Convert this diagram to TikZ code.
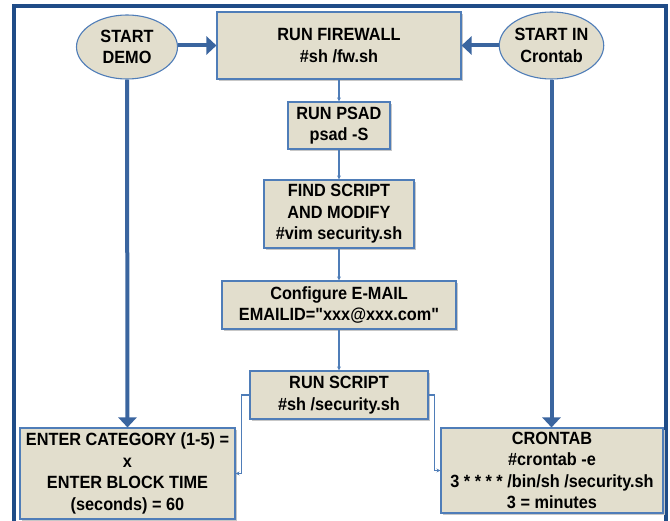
\documentclass[tikz,border=0pt]{standalone}
\usepackage{fontspec}
\newfontfamily\diagfont{Liberation Sans}[FakeStretch=0.92]
\usetikzlibrary{arrows.meta,shapes.geometric}
\definecolor{boxfill}{HTML}{E2DECD}
\definecolor{boxline}{HTML}{4F7DB8}
\definecolor{thickblue}{HTML}{3A659F}
\definecolor{framecol}{HTML}{1F4C87}
\tikzset{
  lbl/.style={font=\diagfont\bfseries\fontsize{17.7}{21.5}\selectfont, align=center, text=black},
  rectbox/.style={lbl, draw=boxline, fill=boxfill, line width=1.1pt, inner sep=0pt, rectangle},
  ellbox/.style={lbl, draw=boxline, fill=boxfill, line width=1.1pt, inner sep=0pt, ellipse},
  bigarrow/.style={draw=thickblue, line width=4pt, -{Triangle[width=18pt,length=10pt]}},
  smallarrow/.style={draw=boxline, line width=1.1pt, -{Stealth[length=4pt,width=4pt]}},
}
\begin{document}
\begin{tikzpicture}[x=1pt,y=-1pt]
\useasboundingbox (0,0) rectangle (670,521);
\begin{scope}
\clip (0,0) rectangle (670,521);
\draw[framecol, line width=4.5pt] (14,530) -- (14,6) -- (666,6) -- (666,530);
\end{scope}
% shadows
\foreach \xa/\ya/\xb/\yb in {217/12/461/79, 288/102/390/149, 264/180/414/248, 222/281/456/329, 250/371/428/419, 20/428/235/519, 441/428/663/513}{
  \fill[black!22] (\xa+2,\ya+2) rectangle (\xb+2,\yb+2);
}
\node[ellbox, minimum width=101pt, minimum height=64pt] (demo) at (127,47) {START\\DEMO};
\node[ellbox, minimum width=101pt, minimum height=67pt] (cre) at (551.5,45.5) {START IN\\Crontab};
\node[rectbox, minimum width=244pt, minimum height=67pt] (fw) at (339,45.5) {RUN FIREWALL\\\#sh /fw.sh};
\node[rectbox, minimum width=102pt, minimum height=47pt] (psad) at (339,125.5) {RUN PSAD\\psad -S};
\node[rectbox, minimum width=150pt, minimum height=68pt] (find) at (339,214) {FIND SCRIPT\\AND MODIFY\\\#vim security.sh};
\node[rectbox, minimum width=234pt, minimum height=48pt] (mail) at (339,305) {Configure E-MAIL\\EMAILID="xxx@xxx.com"};
\node[rectbox, minimum width=178pt, minimum height=48pt] (rs) at (339,395) {RUN SCRIPT\\\#sh /security.sh};
\node[rectbox, minimum width=215pt, minimum height=91pt] (enter) at (127.5,473.5) {ENTER CATEGORY (1-5) =\\x\\ENTER BLOCK TIME\\(seconds) = 60};
\node[rectbox, minimum width=222pt, minimum height=85pt] (cron) at (552,470.5) {CRONTAB\\\#crontab -e\\3 * * * * /bin/sh /security.sh\\3 = minutes};
% thick arrows
\draw[bigarrow] (demo.east |- fw.west) -- (fw.west);
\draw[bigarrow] (cre.west |- fw.east) -- (fw.east);
\draw[bigarrow] (demo.south) -- (enter.north);
\draw[bigarrow] (cre.south) -- (cre.south |- cron.north);
% thin connectors
\draw[smallarrow] (fw.south) -- (psad.north);
\draw[smallarrow] (psad.south) -- (find.north);
\draw[smallarrow] (find.south) -- (mail.north);
\draw[smallarrow] (mail.south) -- (rs.north);
\draw[smallarrow] (rs.west) -- ++(-8,0) |- (enter.east);
\draw[smallarrow] (rs.east) -- ++(6,0) |- (cron.west);
\end{tikzpicture}
\end{document}
